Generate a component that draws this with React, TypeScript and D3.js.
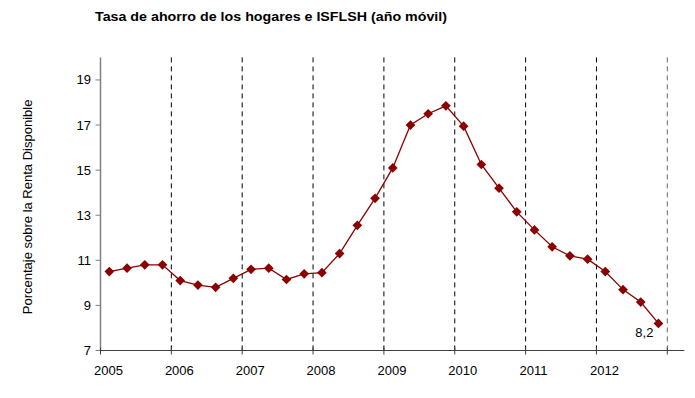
import React from "react";
import * as d3 from "d3";

const title = "Tasa de ahorro de los hogares e ISFLSH (año móvil)";
const yAxisTitle = "Porcentaje sobre la Renta Disponible";
const yearLabels = ["2005", "2006", "2007", "2008", "2009", "2010", "2011", "2012"];
const gridYears = [2006, 2007, 2008, 2009, 2010, 2011, 2012, 2013];
const yTicks = [7, 9, 11, 13, 15, 17, 19];
// quarterly saving rate, 2005Q1 .. 2012Q4
const savingRate = [
  10.5, 10.65, 10.8, 10.8,
  10.1, 9.9, 9.8, 10.2,
  10.6, 10.65, 10.15, 10.4,
  10.45, 11.3, 12.55, 13.75,
  15.1, 17.0, 17.5, 17.85,
  16.95, 15.25, 14.2, 13.15,
  12.35, 11.6, 11.2, 11.05,
  10.5, 9.7, 9.15, 8.2,
];
const lastLabel = "8,2";

const W = 695;
const H = 398;
const FONT = "'Liberation Sans', Arial, sans-serif";
const RED = "#8B0000";

export default function App() {
  const x = d3.scaleLinear().domain([2005, 2013]).range([100.5, 667.3]);
  const y = d3.scaleLinear().domain([7, 20]).range([350.5, 57.4]);
  const pts = savingRate.map((v, i) => ({ t: 2005 + (i + 0.5) / 4, v }));
  const line = d3.line<{ t: number; v: number }>().x((d) => x(d.t)).y((d) => y(d.v));
  const diamond = d3.symbol().type(d3.symbolDiamond2).size(60)();
  const last = pts[pts.length - 1];
  const x0 = x(2005);
  const xEnd = x(2013.24);
  const yBase = y(7);
  const yTop = y(20);

  return (
    <svg width={W} height={H} style={{ position: "absolute", left: 0, top: 0, background: "#fff" }} fontFamily={FONT}>
      <rect width={W} height={H} fill="#fff" />
      <text x={95} y={21} fontSize={13} fontWeight="bold" textLength={352} lengthAdjust="spacingAndGlyphs" fill="#000">
        {title}
      </text>
      {/* vertical dashed year grid */}
      {gridYears.map((g) => (
        <line key={g} x1={x(g)} x2={x(g)} y1={yTop} y2={yBase} stroke={g === 2013 ? "#666" : "#000"} strokeWidth={1} strokeDasharray="5,4" />
      ))}
      {/* y axis */}
      <line x1={x0} x2={x0} y1={yTop} y2={yBase} stroke="#808080" strokeWidth={1.5} />
      {yTicks.map((t) => (
        <g key={t}>
          <line x1={x0 - 5} x2={x0} y1={y(t)} y2={y(t)} stroke="#808080" strokeWidth={1} />
          <text x={91} y={y(t)} dy="0.35em" textAnchor="end" fontSize={13} fill="#000">
            {t}
          </text>
        </g>
      ))}
      {/* x axis */}
      <line x1={x0} x2={xEnd} y1={yBase} y2={yBase} stroke="#404040" strokeWidth={1.2} />
      {[2005, ...gridYears].map((g) => (
        <line key={"t" + g} x1={x(g)} x2={x(g)} y1={yBase - 3} y2={yBase + 4} stroke="#404040" strokeWidth={1} />
      ))}
      {yearLabels.map((l) => (
        <text key={l} x={x(+l) + 8} y={375} textAnchor="middle" fontSize={13} fill="#000">
          {l}
        </text>
      ))}
      <text
        transform={`translate(32,${(yTop + yBase) / 2 + 3}) rotate(-90)`}
        textAnchor="middle"
        fontSize={13}
        fill="#000"
      >
        {yAxisTitle}
      </text>
      <path d={line(pts) || ""} fill="none" stroke={RED} strokeWidth={1.3} />
      {pts.map((p, i) => (
        <path key={i} d={diamond || ""} transform={`translate(${x(p.t)},${y(p.v)})`} fill={RED} />
      ))}
      <text x={x(last.t) - 5} y={y(last.v) + 14} textAnchor="end" fontSize={13} fill="#000">
        {lastLabel}
      </text>
    </svg>
  );
}
